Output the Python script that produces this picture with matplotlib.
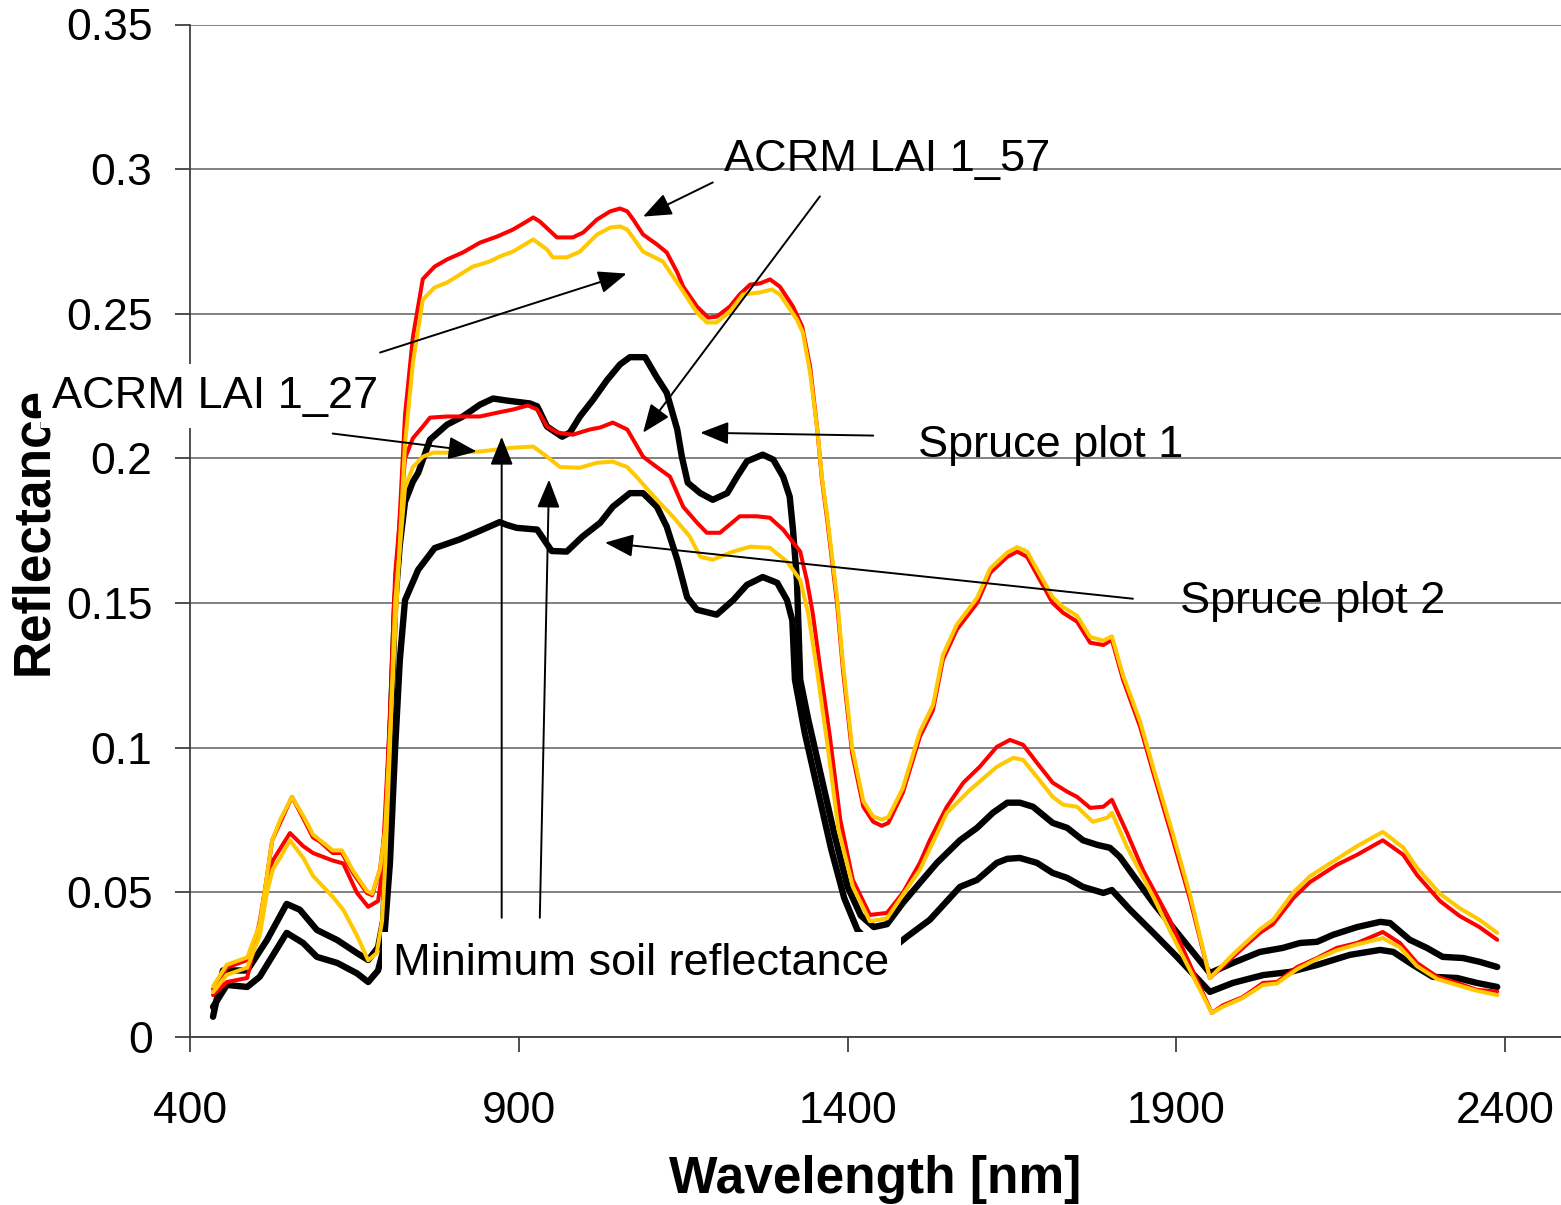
import matplotlib
matplotlib.use("Agg")
import matplotlib.pyplot as plt

plt.rcParams['font.family'] = ['Liberation Sans', 'DejaVu Sans']

# ACRM simulation, LAI 1.57 (red and yellow runs)
wl_red_157 = [435, 456, 487, 506, 525, 537, 555, 572, 587, 598, 617, 631, 648, 669, 677, 689, 697,
              712, 727, 739, 754, 772, 791, 815, 841, 867, 891, 912, 922, 932, 958, 982, 998, 1019,
              1039, 1054, 1065, 1074, 1089, 1110, 1125, 1141, 1150, 1171, 1188, 1201, 1221, 1236,
              1252, 1267, 1282, 1297, 1317, 1331, 1343, 1354, 1361, 1369, 1384, 1393, 1407, 1424,
              1439, 1452, 1462, 1484, 1510, 1530, 1545, 1566, 1597, 1617, 1643, 1658, 1673, 1712,
              1728, 1749, 1769, 1789, 1802, 1819, 1845, 1865, 1895, 1921, 1951, 1986, 2027, 2047,
              2078, 2103, 2144, 2175, 2214, 2245, 2266, 2301, 2331, 2361, 2388]
refl_red_157 = [0.0165, 0.024, 0.0266, 0.038, 0.068, 0.074, 0.083, 0.0757, 0.069, 0.0675, 0.0636,
                0.0636, 0.0567, 0.0498, 0.049, 0.058, 0.073, 0.15, 0.215, 0.242, 0.262, 0.2663,
                0.2688, 0.2712, 0.2746, 0.2767, 0.2791, 0.2819, 0.2833, 0.2819, 0.2764, 0.2764,
                0.2781, 0.2826, 0.2854, 0.2864, 0.2854, 0.2826, 0.2774, 0.274, 0.2712, 0.2643,
                0.2594, 0.2525, 0.2487, 0.249, 0.2525, 0.2567, 0.2601, 0.2605, 0.2619, 0.2594,
                0.2525, 0.2456, 0.2318, 0.21, 0.1927, 0.1788, 0.150, 0.127, 0.098, 0.0796, 0.0744,
                0.073, 0.074, 0.0844, 0.1038, 0.1131, 0.1304, 0.1408, 0.150, 0.1605, 0.166, 0.1678,
                0.166, 0.150, 0.1466, 0.1436, 0.1363, 0.1355, 0.1373, 0.1235, 0.1072, 0.0913, 0.068,
                0.0474, 0.0204, 0.0277, 0.036, 0.039, 0.048, 0.0535, 0.0595, 0.063, 0.068, 0.063,
                0.056, 0.047, 0.0418, 0.038, 0.0336]

wl_yel_157 = [435, 456, 487, 506, 525, 537, 555, 572, 587, 598, 617, 631, 648, 669, 677, 689, 697,
              712, 727, 739, 754, 772, 791, 830, 856, 871, 891, 922, 943, 952, 973, 993, 1019, 1039,
              1054, 1065, 1089, 1119, 1145, 1171, 1186, 1201, 1221, 1241, 1267, 1285, 1297, 1323,
              1332, 1343, 1354, 1361, 1369, 1384, 1393, 1407, 1424, 1439, 1452, 1462, 1484, 1510,
              1530, 1545, 1566, 1597, 1617, 1643, 1658, 1673, 1712, 1728, 1749, 1769, 1789, 1802,
              1819, 1845, 1865, 1895, 1921, 1951, 1986, 2027, 2047, 2078, 2103, 2144, 2175, 2214,
              2245, 2266, 2301, 2331, 2361, 2388]
refl_yel_157 = [0.0175, 0.025, 0.0275, 0.039, 0.068, 0.075, 0.083, 0.0765, 0.070, 0.068, 0.0645,
                0.0645, 0.0575, 0.0505, 0.0495, 0.058, 0.072, 0.14, 0.205, 0.233, 0.2549, 0.2591,
                0.2608, 0.2663, 0.2681, 0.2698, 0.2715, 0.2757, 0.2722, 0.2695, 0.2695, 0.2715,
                0.2774, 0.2798, 0.2802, 0.2791, 0.2715, 0.2681, 0.2594, 0.2504, 0.247, 0.247,
                0.2508, 0.2567, 0.2574, 0.2584, 0.2567, 0.248, 0.2435, 0.2297, 0.21, 0.1935, 0.18,
                0.152, 0.129, 0.100, 0.0815, 0.0762, 0.0752, 0.076, 0.086, 0.1055, 0.1148, 0.132,
                0.1425, 0.1518, 0.162, 0.1675, 0.1693, 0.1678, 0.152, 0.1486, 0.1456, 0.1383, 0.137,
                0.1385, 0.125, 0.109, 0.093, 0.070, 0.049, 0.0204, 0.0285, 0.0372, 0.0405, 0.050,
                0.0555, 0.0615, 0.066, 0.0709, 0.0655, 0.0585, 0.0495, 0.0445, 0.0405, 0.036]

# ACRM simulation, LAI 1.27
wl_red_127 = [435, 456, 487, 506, 517, 526, 552, 572, 587, 617, 633, 654, 671, 686, 692, 704, 712,
              727, 739, 754, 765, 791, 841, 867, 891, 914, 928, 943, 958, 982, 1008, 1024, 1043,
              1065, 1089, 1110, 1130, 1150, 1171, 1186, 1206, 1236, 1262, 1282, 1302, 1328, 1338,
              1347, 1358, 1373, 1389, 1408, 1434, 1460, 1484, 1510, 1525, 1551, 1576, 1601, 1627,
              1647, 1667, 1688, 1712, 1734, 1749, 1769, 1789, 1802, 1825, 1849, 1890, 1954, 1971,
              2001, 2032, 2053, 2084, 2114, 2144, 2175, 2214, 2240, 2266, 2297, 2327, 2357, 2388]
refl_red_127 = [0.0145, 0.019, 0.0204, 0.040, 0.055, 0.061, 0.0705, 0.066, 0.0636, 0.061, 0.060,
                0.0498, 0.045, 0.047, 0.0567, 0.11, 0.16, 0.20, 0.207, 0.211, 0.2141, 0.2145,
                0.2145, 0.2158, 0.2169, 0.2183, 0.2169, 0.211, 0.209, 0.2082, 0.21, 0.2107, 0.2124,
                0.21, 0.2006, 0.197, 0.1937, 0.1833, 0.1778, 0.1743, 0.1743, 0.18, 0.18, 0.1795,
                0.1754, 0.1678, 0.158, 0.1466, 0.128, 0.104, 0.075, 0.0543, 0.0422, 0.0429, 0.0498,
                0.0602, 0.068, 0.0796, 0.0879, 0.0934, 0.1003, 0.1027, 0.101, 0.0948, 0.0879,
                0.0848, 0.083, 0.0792, 0.0796, 0.082, 0.0706, 0.0578, 0.0405, 0.0083, 0.011, 0.0138,
                0.0187, 0.019, 0.0242, 0.0273, 0.0308, 0.0325, 0.0363, 0.0325, 0.0256, 0.0208,
                0.0187, 0.0163, 0.0157]

wl_yel_127 = [435, 456, 487, 506, 517, 526, 537, 552, 572, 587, 617, 633, 654, 671, 684, 692, 697,
              704, 712, 727, 739, 754, 770, 800, 841, 891, 922, 943, 963, 993, 1019, 1043, 1065,
              1080, 1110, 1134, 1160, 1176, 1195, 1226, 1252, 1282, 1308, 1328, 1340, 1354, 1370,
              1386, 1408, 1434, 1460, 1510, 1551, 1586, 1627, 1652, 1667, 1688, 1712, 1728, 1749,
              1773, 1795, 1802, 1825, 1865, 1895, 1954, 1971, 2001, 2032, 2053, 2084, 2114, 2144,
              2175, 2214, 2240, 2266, 2297, 2327, 2357, 2388]
refl_yel_127 = [0.0155, 0.0215, 0.024, 0.035, 0.050, 0.058, 0.062, 0.068, 0.062, 0.0557, 0.0485,
                0.044, 0.035, 0.0265, 0.029, 0.040, 0.060, 0.10, 0.15, 0.19, 0.197, 0.2006, 0.202,
                0.202, 0.2024, 0.2037, 0.2041, 0.2006, 0.197, 0.1968, 0.1985, 0.1989, 0.197, 0.1934,
                0.1857, 0.18, 0.173, 0.166, 0.165, 0.1678, 0.1695, 0.1691, 0.1643, 0.158, 0.1466,
                0.126, 0.100, 0.072, 0.052, 0.040, 0.041, 0.0578, 0.0775, 0.0854, 0.0934, 0.0965,
                0.0958, 0.0899, 0.083, 0.0803, 0.0796, 0.0744, 0.0758, 0.0775, 0.0657, 0.0484,
                0.0346, 0.0083, 0.0105, 0.0135, 0.018, 0.0185, 0.0235, 0.027, 0.030, 0.032, 0.0342,
                0.031, 0.0245, 0.020, 0.018, 0.016, 0.0145]

# measured spruce stands
wl_spruce1 = [435, 450, 487, 517, 547, 567, 593, 624, 654, 671, 686, 694, 704, 712, 719, 727, 739,
              747, 765, 791, 815, 841, 861, 882, 917, 928, 943, 966, 978, 993, 1013, 1034, 1054,
              1069, 1092, 1110, 1125, 1141, 1148, 1157, 1176, 1195, 1217, 1232, 1247, 1271, 1287,
              1302, 1312, 1317, 1323, 1328, 1340, 1360, 1380, 1400, 1420, 1440, 1460, 1484, 1510,
              1536, 1571, 1597, 1621, 1643, 1662, 1682, 1712, 1734, 1758, 1780, 1799, 1814, 1865,
              1910, 1951, 1986, 2027, 2062, 2088, 2114, 2138, 2175, 2210, 2225, 2255, 2281, 2305,
              2336, 2361, 2388]
refl_spruce1 = [0.007, 0.023, 0.023, 0.0335, 0.046, 0.044, 0.037, 0.0335, 0.029, 0.0266, 0.031,
                0.0405, 0.10, 0.15, 0.17, 0.185, 0.192, 0.195, 0.2065, 0.2117, 0.2145, 0.2186,
                0.2207, 0.22, 0.219, 0.218, 0.211, 0.2075, 0.209, 0.2145, 0.2203, 0.227, 0.2325,
                0.235, 0.235, 0.228, 0.2227, 0.21, 0.2006, 0.1916, 0.188, 0.1857, 0.188, 0.1937,
                0.199, 0.2013, 0.1996, 0.1937, 0.1868, 0.1754, 0.158, 0.1235, 0.11, 0.09, 0.07,
                0.052, 0.042, 0.038, 0.039, 0.0463, 0.0533, 0.0602, 0.068, 0.0723, 0.0775, 0.081,
                0.081, 0.0796, 0.074, 0.0723, 0.068, 0.0664, 0.0654, 0.0623, 0.0463, 0.0336, 0.0221,
                0.0256, 0.0294, 0.0308, 0.0325, 0.0329, 0.0353, 0.038, 0.0398, 0.0394, 0.0336,
                0.0308, 0.0277, 0.0273, 0.026, 0.0242]

wl_spruce2 = [435, 456, 487, 506, 547, 572, 593, 624, 654, 671, 686, 694, 704, 712, 719, 727, 747,
              772, 810, 841, 871, 882, 897, 928, 950, 973, 997, 1024, 1043, 1069, 1089, 1110, 1125,
              1141, 1156, 1171, 1201, 1226, 1247, 1271, 1293, 1308, 1316, 1320, 1335, 1355, 1375,
              1395, 1415, 1440, 1465, 1490, 1525, 1571, 1597, 1627, 1643, 1662, 1688, 1712, 1734,
              1758, 1789, 1802, 1830, 1865, 1901, 1951, 1986, 2032, 2073, 2114, 2164, 2210, 2230,
              2260, 2290, 2327, 2357, 2388]
refl_spruce2 = [0.0104, 0.018, 0.0173, 0.0208, 0.036, 0.0325, 0.0277, 0.0256, 0.022, 0.019, 0.023,
                0.030, 0.060, 0.10, 0.13, 0.151, 0.1615, 0.169, 0.172, 0.175, 0.178, 0.177, 0.176,
                0.1754, 0.168, 0.1678, 0.173, 0.1778, 0.1833, 0.188, 0.188, 0.1833, 0.1764, 0.165,
                0.152, 0.1477, 0.146, 0.151, 0.1563, 0.159, 0.157, 0.151, 0.144, 0.1235, 0.105,
                0.085, 0.065, 0.048, 0.037, 0.031, 0.030, 0.0346, 0.0405, 0.0519, 0.0543, 0.0602,
                0.0616, 0.0619, 0.0602, 0.0567, 0.055, 0.0519, 0.0498, 0.0508, 0.0439, 0.036,
                0.0277, 0.0156, 0.0187, 0.0214, 0.0225, 0.0249, 0.0284, 0.0301, 0.0294, 0.0249,
                0.0208, 0.0204, 0.0187, 0.0173]

x_ticks = [400, 900, 1400, 1900, 2400]
y_ticks = [0, 0.05, 0.1, 0.15, 0.2, 0.25, 0.3, 0.35]
y_tick_labels = ['0', '0.05', '0.1', '0.15', '0.2', '0.25', '0.3', '0.35']

RED = '#ff0000'
YELLOW = '#ffc800'
LABEL_SIZE = 32.5

fig = plt.figure(figsize=(15.61, 12.05), dpi=100)
ax = fig.add_axes([190 / 1561, 168 / 1205, 1371 / 1561, 1012.5 / 1205])

line_kw = dict(solid_joinstyle='round', solid_capstyle='round')
ax.plot(wl_spruce1, refl_spruce1, color='black', lw=4.6, **line_kw)
ax.plot(wl_spruce2, refl_spruce2, color='black', lw=4.6, **line_kw)
ax.plot(wl_red_157, refl_red_157, color=RED, lw=2.9, **line_kw)
ax.plot(wl_red_127, refl_red_127, color=RED, lw=2.9, **line_kw)
ax.plot(wl_yel_157, refl_yel_157, color=YELLOW, lw=2.9, **line_kw)
ax.plot(wl_yel_127, refl_yel_127, color=YELLOW, lw=2.9, **line_kw)

ax.set_xlim(400, 2485)
ax.set_ylim(0, 0.35)
ax.set_xticks(x_ticks)
ax.set_yticks(y_ticks)
ax.set_yticklabels(y_tick_labels)
ax.yaxis.grid(True, color='#777777', lw=1.3)
ax.tick_params(axis='both', direction='out', length=11, width=1.3, color='#404040', labelsize=32)
ax.tick_params(axis='x', pad=28)
ax.tick_params(axis='y', pad=16)
for side in ['top', 'right']:
    ax.spines[side].set_visible(False)
for side in ['left', 'bottom']:
    ax.spines[side].set_color('#404040')
    ax.spines[side].set_linewidth(1.3)

ax.set_xlabel('Wavelength [nm]', fontsize=37, fontweight='bold')
ax.set_ylabel('Reflectance', fontsize=37, fontweight='bold')
ax.xaxis.set_label_coords(0.5, -0.117)
ax.yaxis.set_label_coords(-0.096, 0.5)

arrow_kw = dict(arrowstyle='-|>,head_length=0.7,head_width=0.28', color='black', lw=1.4,
                mutation_scale=25, shrinkA=0, shrinkB=0)
white_box = dict(boxstyle='square,pad=0.25', facecolor='white', edgecolor='none')

# labels with their pointers (tail -> head, in data units)
ax.text(1212, 0.2992, 'ACRM LAI 1_57', fontsize=LABEL_SIZE, zorder=6)
ax.annotate('', xy=(1089, 0.2836), xytext=(1195, 0.2954), arrowprops=arrow_kw, zorder=6)
ax.annotate('', xy=(1089, 0.2089), xytext=(1358, 0.2906), arrowprops=arrow_kw, zorder=6)
ax.annotate('', xy=(1064, 0.2639), xytext=(689, 0.2366), arrowprops=arrow_kw, zorder=6)

ax.annotate('', xy=(836, 0.2024), xytext=(617, 0.2086), arrowprops=arrow_kw, zorder=6)
ax.text(190, 0.2176, 'ACRM LAI 1_27', fontsize=LABEL_SIZE, bbox=white_box, zorder=8,
        clip_on=False)

ax.text(1507, 0.2006, 'Spruce plot 1', fontsize=LABEL_SIZE, zorder=6)
ax.annotate('', xy=(1176, 0.2089), xytext=(1439, 0.2079), arrowprops=arrow_kw, zorder=6)

ax.text(1906, 0.1467, 'Spruce plot 2', fontsize=LABEL_SIZE, zorder=6)
ax.annotate('', xy=(1031, 0.1709), xytext=(1834, 0.1515), arrowprops=arrow_kw, zorder=6)

ax.annotate('', xy=(874, 0.2075), xytext=(874, 0.0412), arrowprops=arrow_kw, zorder=6)
ax.annotate('', xy=(946, 0.1927), xytext=(932, 0.0412), arrowprops=arrow_kw, zorder=6)
ax.text(709, 0.0214, 'Minimum soil reflectance', fontsize=LABEL_SIZE, bbox=white_box, zorder=8)

fig.savefig('out.png', dpi=100)
